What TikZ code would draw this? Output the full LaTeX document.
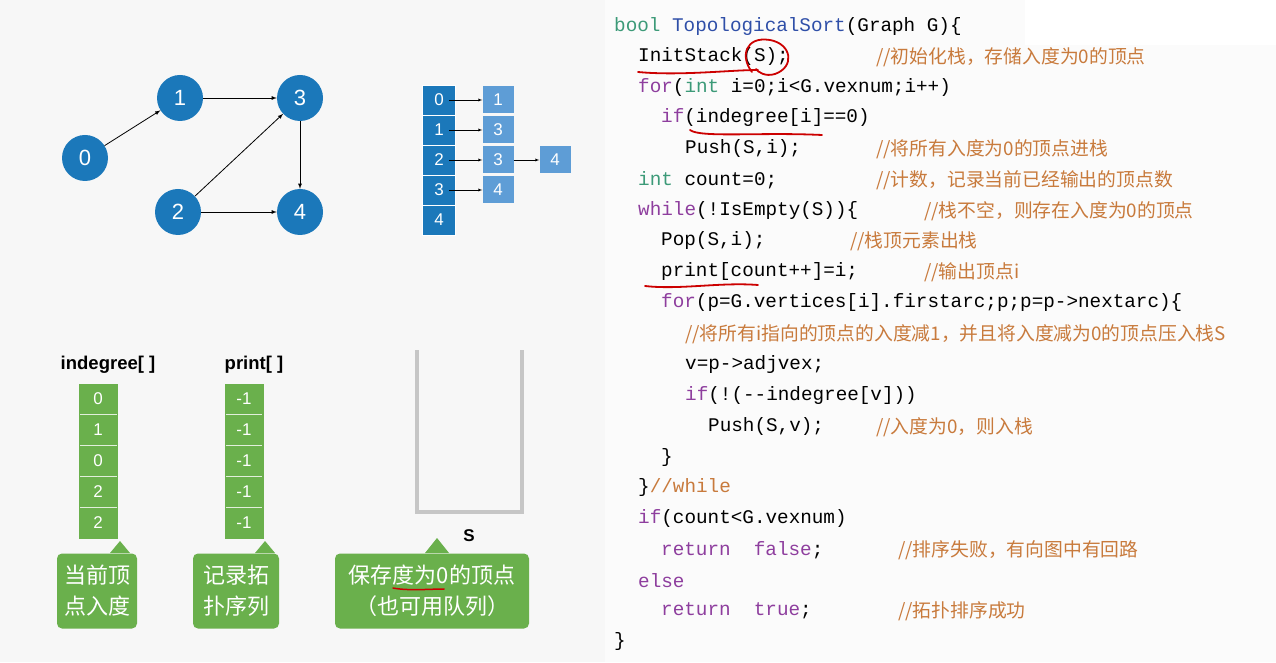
\documentclass[tikz,border=0pt]{standalone}
\usepackage{fontspec}
\setmainfont{Liberation Sans}
\newfontfamily\cf{Liberation Mono}
\newfontfamily\cjk{Noto Sans CJK SC}
\usetikzlibrary{shapes.geometric}
\definecolor{gblue}{HTML}{1B78BA}
\definecolor{lblue}{HTML}{5E9DD6}
\definecolor{grn}{HTML}{6AB04C}
\definecolor{kw}{HTML}{8E3E9E}
\definecolor{ty}{HTML}{3C9A78}
\definecolor{fn}{HTML}{2F4FA8}
\definecolor{cm}{HTML}{C87A3C}
\newcommand{\K}[1]{\textcolor{kw}{#1}}
\newcommand{\T}[1]{\textcolor{ty}{#1}}
\newcommand{\C}[1]{\textcolor{cm}{\cjk\fontsize{18.8}{21}\selectfont #1}}
\begin{document}
\begin{tikzpicture}[x=1pt,y=1pt,
  vx/.style={circle,fill=gblue,minimum size=46pt,inner sep=0pt,text=white,font=\fontsize{22}{24}\selectfont},
  ar/.style={-latex,thick},
  hd/.style={fill=gblue,draw=white,line width=0.6pt,minimum width=33pt,minimum height=30pt,inner sep=0pt,text=white,font=\fontsize{17}{19}\selectfont},
  ls/.style={fill=lblue,minimum width=31pt,minimum height=27pt,inner sep=0pt,text=white,font=\fontsize{17}{19}\selectfont},
  cell/.style={fill=grn,minimum width=39pt,minimum height=31pt,inner sep=0pt,text=white,font=\fontsize{17}{19}\selectfont},
  ttl/.style={font=\bfseries\fontsize{18.5}{20}\selectfont},
  bub/.style={fill=grn,rounded corners=5pt,text=white,align=center,font=\cjk\fontsize{22}{31}\selectfont,inner sep=4pt},
  code/.style={anchor=west,inner sep=0pt,font=\cf\fontsize{19.3}{21}\selectfont},
  red/.style={draw=red!80!black,line width=1.8pt,line cap=round}]
\useasboundingbox (0,0) rectangle (1276,662);
\fill[gray!6] (0,0) rectangle (1276,662);
\fill[white!97!gray] (605,0) rectangle (1276,662);
\fill[white] (1025,617) rectangle (1276,662);
% graph
\node[vx] (n0) at (85,504) {0};
\node[vx] (n1) at (180,564) {1};
\node[vx] (n3) at (300,564) {3};
\node[vx] (n2) at (178,450) {2};
\node[vx] (n4) at (300,450) {4};
\draw[ar] (n0)--(n1); \draw[ar] (n1)--(n3); \draw[ar] (n2)--(n3);
\draw[ar] (n2)--(n4); \draw[ar] (n3)--(n4);
% adjacency
\foreach \i in {0,...,4}{\node[hd] (h\i) at (439,562-30*\i) {\i};}
\node[ls] (a0) at (498,562) {1};
\node[ls] (a1) at (498,532) {3};
\node[ls] (a2) at (498,502) {3};
\node[ls] (a2b) at (555,502) {4};
\node[ls] (a3) at (498,472) {4};
\foreach \i in {0,1,2,3}{\draw[ar,thin,-latex] (h\i.center)++(10,0) -- (a\i.west);}
\draw[ar,thin] (a2)--(a2b);
% arrays
\node[ttl] (t1) at (108,297) {indegree[ ]};
\node[ttl] (t2) at (254,297) {print[ ]};
\foreach \v [count=\i from 0] in {0,1,0,2,2}{\node[cell] (d\i) at (98,263-31*\i) {\v};}
\foreach \i in {0,...,4}{\node[cell] (p\i) at (244,263-31*\i) {-1};}
\foreach \i in {1,...,4}{\draw[white!80!grn] (80,278.5-31*\i)--(117,278.5-31*\i); \draw[white!80!grn] (226,278.5-31*\i)--(262,278.5-31*\i);}
% bubbles
\node[bub,minimum width=80pt,minimum height=75pt] (b1) at (97,71) {当前顶\\点入度};
\fill[grn] (110,109)--(120,121)--(130,109)--cycle;
\node[bub,minimum width=86pt,minimum height=75pt] (b2) at (236,71) {记录拓\\扑序列};
\fill[grn] (255,109)--(265,121)--(275,109)--cycle;
\node[bub,minimum width=194pt,minimum height=75pt] (b3) at (432,71) {保存度为0的顶点\\（也可用队列）};
\fill[grn] (425,109)--(437,124)--(449,109)--cycle;
\draw[red,line width=1.5pt] (393,74) .. controls (408,71) and (430,73) .. (444,73);
% stack
\draw[gray!45,line width=4pt] (417,312)--(417,150)--(522,150)--(522,312);
\node[font=\bfseries\fontsize{17}{19}\selectfont] (S) at (469,126) {S};
% code
\node[code] (l1) at (614,635) {\T{bool} \textcolor{fn}{TopologicalSort}(Graph G)\{};
\node[code] (l2) at (638,605) {InitStack(S);};
\node[code] (c2) at (876,605) {\C{//初始化栈，存储入度为0的顶点}};
\node[code] (l3) at (638,574) {\K{for}(\T{int} i=0;i<G.vexnum;i++)};
\node[code] (l4) at (661,544) {\K{if}(indegree[i]==0)};
\node[code] (l5) at (685,513) {Push(S,i);};
\node[code] (c5) at (876,513) {\C{//将所有入度为0的顶点进栈}};
\node[code] (l6) at (638,482) {\T{int} count=0;};
\node[code] (c6) at (876,482) {\C{//计数，记录当前已经输出的顶点数}};
\node[code] (l7) at (638,451) {\K{while}(!IsEmpty(S))\{};
\node[code] (c7) at (924,451) {\C{//栈不空，则存在入度为0的顶点}};
\node[code] (l8) at (661,421) {Pop(S,i);};
\node[code] (c8) at (850,421) {\C{//栈顶元素出栈}};
\node[code] (l9) at (661,390) {print[count++]=i;};
\node[code] (c9) at (924,390) {\C{//输出顶点i}};
\node[code] (l10) at (661,359) {\K{for}(p=G.vertices[i].firstarc;p;p=p->nextarc)\{};
\node[code] (l11) at (685,328) {\C{//将所有i指向的顶点的入度减1，并且将入度减为0的顶点压入栈S}};
\node[code] (l12) at (685,297) {v=p->adjvex;};
\node[code] (l13) at (685,266) {\K{if}(!(--indegree[v]))};
\node[code] (l14) at (708,235) {Push(S,v);};
\node[code] (c14) at (876,235) {\C{//入度为0，则入栈}};
\node[code] (l15) at (661,204) {\}};
\node[code] (l16) at (638,174) {\}\textcolor{cm}{//while}};
\node[code] (l17) at (638,143) {\K{if}(count<G.vexnum)};
\node[code] (l18) at (661,112) {\K{return}\ \ \K{false};};
\node[code] (c18) at (898,112) {\C{//排序失败，有向图中有回路}};
\node[code] (l19) at (638,81) {\K{else}};
\node[code] (l20) at (661,51) {\K{return}\ \ \K{true};};
\node[code] (c20) at (898,51) {\C{//拓扑排序成功}};
\node[code] (l21) at (614,20) {\}};
% red marks
\draw[red] (638,590) .. controls (680,586) and (730,592) .. (758,592);
\draw[red] (752,590) .. controls (740,605) and (745,626) .. (770,622) .. controls (792,618) and (795,595) .. (775,588) .. controls (765,585) and (758,590) .. (756,593);
\draw[red] (690,532) .. controls (700,524) and (760,530) .. (822,527);
\draw[red] (645,376) .. controls (680,372) and (720,380) .. (758,377);
\end{tikzpicture}
\end{document}
